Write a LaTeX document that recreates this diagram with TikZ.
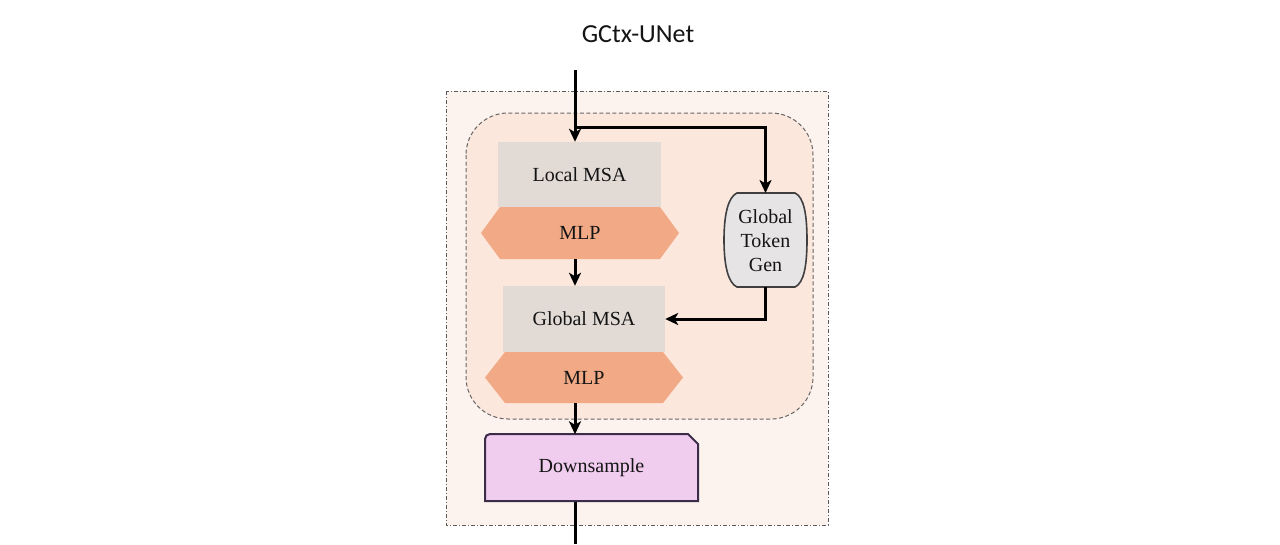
\documentclass[tikz,border=0pt]{standalone}
\usepackage{fontspec}
\setmainfont{Liberation Serif}
\newfontfamily\titlefont{Carlito}
\newfontfamily\bodyfont{Liberation Serif}
\usetikzlibrary{arrows.meta}
\definecolor{outerfill}{HTML}{FDF3EE}
\definecolor{innerfill}{HTML}{FBE7DC}
\definecolor{msafill}{HTML}{E1DAD5}
\definecolor{mlpfill}{HTML}{F1AA85}
\definecolor{gtgfill}{HTML}{E6E4E4}
\definecolor{dsfill}{HTML}{F0CDEF}
\definecolor{dsdraw}{HTML}{3B2D4A}
\definecolor{txt}{HTML}{141414}
\tikzset{
  outerbox/.style={fill=outerfill, draw=black!65, line width=1pt, dash pattern=on 4pt off 2pt on 1pt off 2pt},
  innerbox/.style={fill=innerfill, draw=black!60, line width=1pt, dash pattern=on 4pt off 2.5pt},
  lbl/.style={text=txt, font=\bodyfont\fontsize{20}{24}\selectfont, inner sep=0pt, align=center},
  msabox/.style={lbl, fill=msafill, draw=none, rectangle},
  holder/.style={lbl, rectangle, draw=none},
  arr/.style={draw=black, line width=3pt, -{Stealth[length=13pt, width=12pt, inset=3.5pt]}},
  plainline/.style={draw=black, line width=3pt},
}
\begin{document}
\begin{tikzpicture}[x=1pt, y=-1pt]
\useasboundingbox[fill=white] (0,0) rectangle (1280,544);
\node[text=txt, font=\titlefont\fontsize{26}{30}\selectfont] (title) at (638,34) {GCtx-UNet};
\draw[outerbox] (446,91) rectangle (828,525);
\draw[innerbox, rounded corners=42pt] (466,113) rectangle (813,419);
% Local MSA
\node[msabox, minimum width=163pt, minimum height=65pt] (lmsa) at (579.5,174.5) {Local MSA};
% MLP 1
\fill[mlpfill] (481,233) -- (500,207) -- (660,207) -- (679,233) -- (660,259) -- (500,259) -- cycle;
\node[holder, minimum width=198pt, minimum height=52pt] (mlpa) at (580,233) {MLP};
% Global MSA
\node[msabox, minimum width=162pt, minimum height=66pt] (gmsa) at (584,319) {Global MSA};
% MLP 2
\fill[mlpfill] (485,377.5) -- (505,352) -- (663,352) -- (683,377.5) -- (663,403) -- (505,403) -- cycle;
\node[holder, minimum width=198pt, minimum height=51pt] (mlpb) at (584,377.5) {MLP};
% Global Token Gen
\draw[fill=gtgfill, draw=black!75, line width=1.6pt]
  (737,193) -- (795,193)
  .. controls (804,197) and (807,215) .. (807,240)
  .. controls (807,265) and (804,283) .. (795,287)
  -- (737,287)
  .. controls (728,283) and (724,265) .. (724,240)
  .. controls (724,215) and (728,197) .. (737,193) -- cycle;
\node[holder, minimum width=83pt, minimum height=94pt] (gtg) at (765.5,241) {Global\\Token\\Gen};
% Downsample
\draw[fill=dsfill, draw=dsdraw, line width=2pt]
  (485,501) -- (485,439) to[out=90,in=180] (490,434) -- (688,434) -- (698,444) -- (698,501) -- cycle;
\node[holder, minimum width=213pt, minimum height=67pt] (ds) at (591.5,468) {Downsample};
% connectors
\coordinate (top) at (575,70);
\coordinate (br) at (575,127);
\coordinate (bottom) at (575,544);
\draw[arr] (top) -- (top|-lmsa.north);
\draw[plainline] (br) -- (765.5,127);
\draw[arr] (br) -| (765.5,193);
\draw[arr] (top|-mlpa.south) -- (top|-gmsa.north);
\draw[arr] (765.5,287) |- (gmsa.east);
\draw[arr] (top|-mlpb.south) -- (top|-ds.north);
\draw[plainline] (top|-ds.south) -- (bottom);
\end{tikzpicture}
\end{document}
